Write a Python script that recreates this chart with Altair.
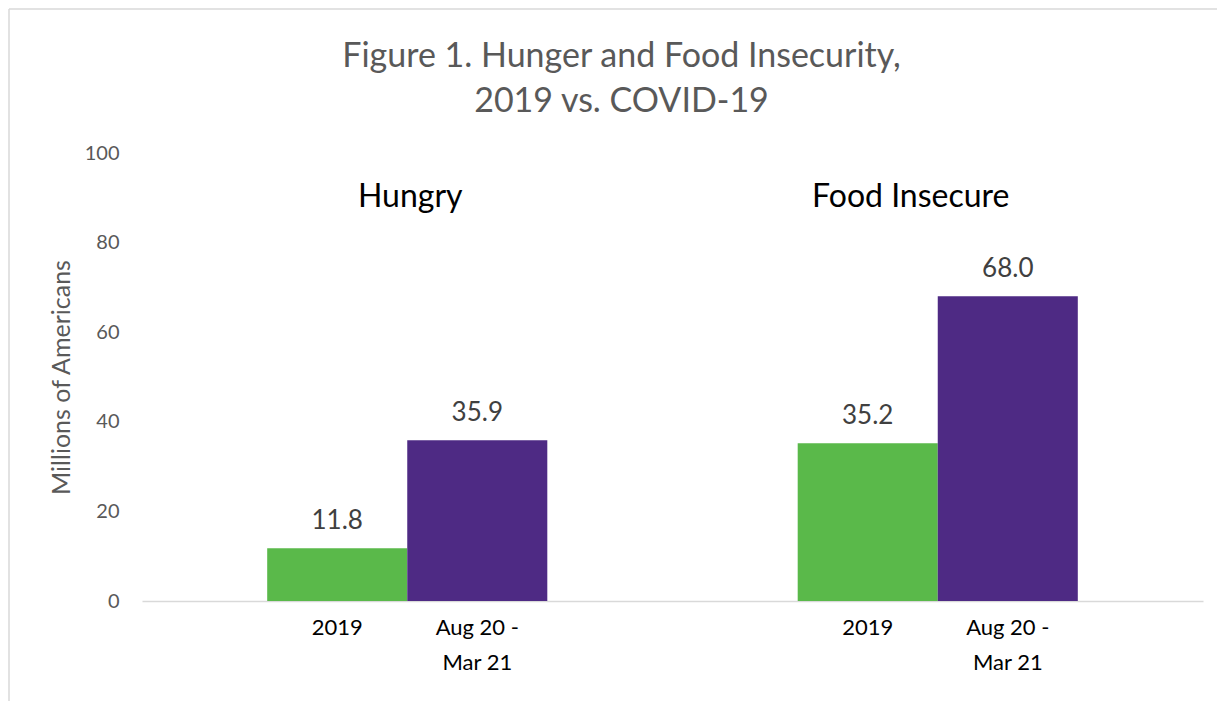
import altair as alt
import pandas as pd

groups = ["Hungry", "Food Insecure"]
periods = ["2019", "Aug 20 -\nMar 21"]
hungry_values = [11.8, 35.9]
food_insecure_values = [35.2, 68.0]
bar_colors = ["#5AB94A", "#4E2A84"]
y_ticks = [0, 20, 40, 60, 80, 100]
title_lines = ["Figure 1. Hunger and Food Insecurity,", "2019 vs. COVID-19"]
y_title = "Millions of Americans"

rows = []
for g, vals in zip(groups, [hungry_values, food_insecure_values]):
    for p, v in zip(periods, vals):
        rows.append({"group": g, "period": p, "value": v})
df = pd.DataFrame(rows)

FONT = "Lato"

x_enc = alt.X("group:N", sort=groups, axis=alt.Axis(labels=False, ticks=False, title=None,
              domain=True, domainColor="#D9D9D9", domainWidth=1.5),
              scale=alt.Scale(paddingInner=0.472, paddingOuter=0.236))
xo_enc = alt.XOffset("period:N", sort=periods, scale=alt.Scale(paddingInner=0, paddingOuter=0))
y_enc = alt.Y("value:Q", scale=alt.Scale(domain=[0, 100]),
              axis=alt.Axis(values=y_ticks, grid=False, domain=False, ticks=False,
                            labelFontSize=20, labelColor="#595959", labelFont=FONT, labelPadding=23,
                            title=y_title, titleFont=FONT, titleFontSize=25, titleFontWeight="normal",
                            titleColor="#595959", titleX=-81, titleY=224, titleAngle=-90,
                            titleAlign="center", titleBaseline="middle"))

base = alt.Chart(df)

bars = base.mark_bar().encode(
    x=x_enc, xOffset=xo_enc, y=y_enc,
    color=alt.Color("period:N", sort=periods, scale=alt.Scale(domain=periods, range=bar_colors), legend=None),
)

values = base.mark_text(font=FONT, fontSize=26, color="#404040", baseline="alphabetic", dy=-19).encode(
    x=alt.X("group:N", sort=groups), xOffset=alt.XOffset("period:N", sort=periods),
    y="value:Q", text=alt.Text("value:Q", format=".1f"),
)

cat_labels = base.mark_text(font=FONT, fontSize=22, color="#000000", baseline="top", dy=17,
                            lineBreak="\n", lineHeight=35).encode(
    x=alt.X("group:N", sort=groups), xOffset=alt.XOffset("period:N", sort=periods),
    y=alt.datum(0), text="period:N",
)

glab = pd.DataFrame({"group": groups, "label": groups, "ypos": [88, 88]})
g1 = alt.Chart(glab[glab.group == groups[0]]).mark_text(font=FONT, fontSize=32, color="#000000",
                                                         baseline="alphabetic", dx=3).encode(
    x=alt.X("group:N", sort=groups), y="ypos:Q", text="label:N")
g2 = alt.Chart(glab[glab.group == groups[1]]).mark_text(font=FONT, fontSize=32, color="#000000",
                                                         baseline="alphabetic", dx=-27).encode(
    x=alt.X("group:N", sort=groups), y="ypos:Q", text="label:N")

border_left = alt.Chart(glab.head(1)).mark_rule(color="#D9D9D9", strokeWidth=1.5).encode(
    x=alt.value(-133), y=alt.value(-144), y2=alt.value(560))
border_top = alt.Chart(glab.head(1)).mark_rule(color="#D9D9D9", strokeWidth=1.5).encode(
    x=alt.value(-133), x2=alt.value(1100), y=alt.value(-144))

chart = alt.layer(border_left, border_top, bars, values, cat_labels, g1, g2).properties(
    width=1061, height=448,
    autosize=alt.AutoSizeParams(type="none"),
    padding={"left": 134, "top": 145, "right": 14, "bottom": 100},
    title=alt.TitleParams(title_lines, font=FONT, fontSize=34, fontWeight="normal", color="#595959",
                          lineHeight=45, anchor="middle", dx=-51, offset=-111),
).configure(font=FONT).configure_view(stroke=None)

chart.save("out.html", embed_options={"renderer": "svg", "actions": False})
